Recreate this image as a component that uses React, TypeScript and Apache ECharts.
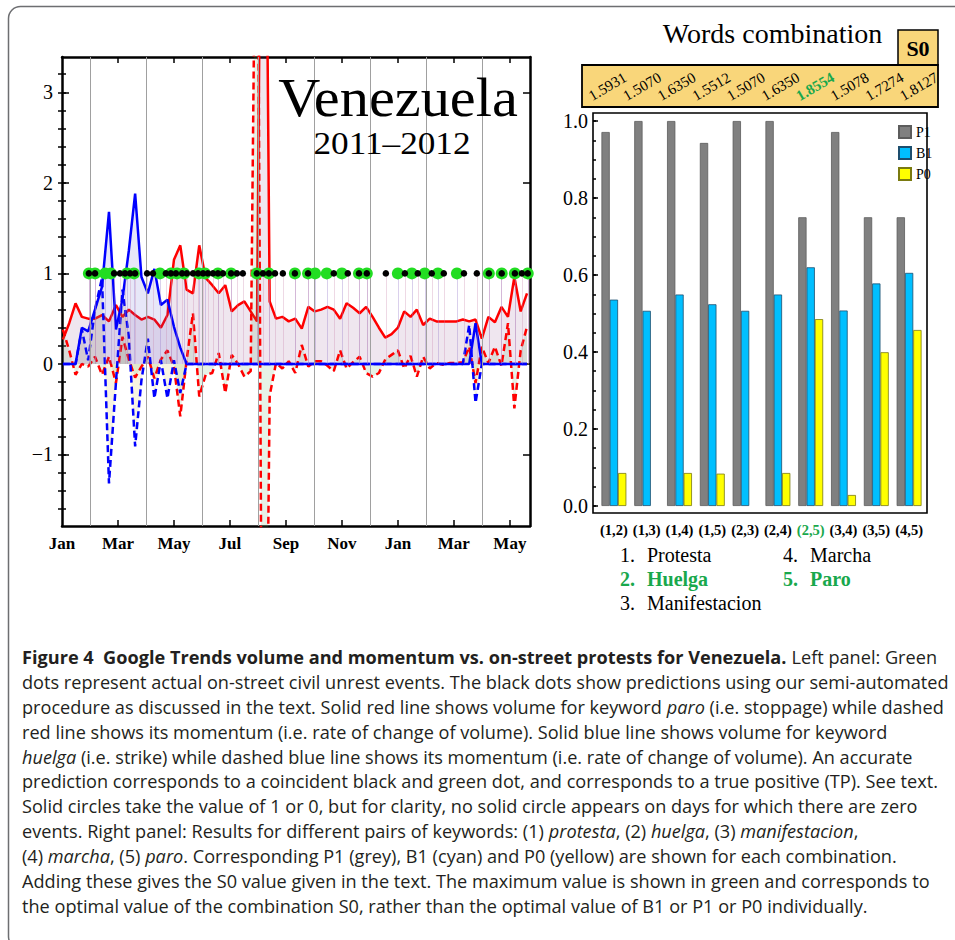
import React, { useEffect, useRef } from 'react';
import * as echarts from 'echarts';

// ---------- Left panel data (weekly samples starting 2011-01-02) ----------
const weekStart = Date.UTC(2011, 0, 2);
const redVolume = [
  0.27, 0.45, 0.67, 0.52, 0.50, 0.50, 0.54, 0.47, 0.65, 0.52,
  0.60, 0.54, 0.49, 0.52, 0.49, 0.40, 0.54, 1.15, 1.31, 0.82,
  0.78, 1.31, 0.95, 0.87, 0.78, 0.87, 0.58, 0.65, 0.69, 0.58,
  0.47, 9.0, 0.69, 0.50, 0.52, 0.47, 0.50, 0.39, 0.63, 0.58,
  0.60, 0.63, 0.60, 0.50, 0.67, 0.62, 0.56, 0.63, 0.52, 0.40,
  0.29, 0.33, 0.40, 0.58, 0.52, 0.60, 0.43, 0.50, 0.47, 0.47,
  0.47, 0.47, 0.49, 0.47, 0.49, 0.28, 0.52, 0.46, 0.63, 0.52,
  0.96, 0.58, 0.78,
];
const redMomentum = [
  0.38, 0.15, -0.12, 0.0, -0.03, 0.08, -0.12, 0.08, -0.21, 0.30,
  0.05, -0.15, -0.03, 0.08, -0.16, 0.05, 0.15, -0.03, -0.58, 0.04,
  0.56, -0.36, -0.12, -0.10, 0.12, -0.32, 0.10, 0.0, -0.14, -0.08,
  7.0, -7.0, -0.35, 0.01, -0.05, 0.03, -0.10, 0.21, -0.03, 0.03,
  0.03, -0.02, -0.08, 0.15, -0.05, 0.02, 0.08, -0.10, -0.14, -0.10,
  0.05, 0.10, 0.15, -0.05, 0.09, -0.14, 0.08, -0.05, 0.01, -0.01,
  0.01, 0.01, 0.02, 0.19, -0.21, 0.19, 0.01, 0.19, -0.02, 0.45,
  -0.49, 0.15, 0.41,
];
const blueVolume = [
  0, 0, 0, 0.40, 0.36, 0.60, 0.85, 1.68, 0.38, 0.72,
  1.25, 1.88, 0.96, 0.78, 1.05, 0.65, 0.71, 0.41, 0.18, 0,
  0, 0, 0, 0, 0, 0, 0, 0, 0, 0,
  0, 0, 0, 0, 0, 0, 0, 0, 0, 0,
  0, 0, 0, 0, 0, 0, 0, 0, 0, 0,
  0, 0, 0, 0, 0, 0, 0, 0, 0, 0,
  0, 0, 0, 0, 0.45, 0, 0, 0, 0, 0,
  0, 0, 0,
];
const blueMomentum = [
  0, 0, 0, 0.38, 0.04, 0.60, 0.95, -1.32, -0.20, 0.82,
  0.30, -0.91, -0.18, 0.28, -0.38, 0.04, -0.38, 0.04, -0.32, 0,
  0, 0, 0, 0, 0, 0, 0, 0, 0, 0,
  0, 0, 0, 0, 0, 0, 0, 0, 0, 0,
  0, 0, 0, 0, 0, 0, 0, 0, 0, 0,
  0, 0, 0, 0, 0, 0, 0, 0, 0, 0,
  0, 0, 0, 0.43, -0.43, 0, 0, 0, 0, 0,
  0, 0, 0,
];
// event positions in months since Jan 2011
const greenEventMonths = [
  0.96, 1.18, 1.54, 1.75, 2.32, 2.57, 3.50, 3.89, 4.11, 4.36, 4.89, 5.11, 5.57, 6.04,
  6.96, 7.39, 8.32, 8.79, 9.04, 9.46, 10.0, 10.61, 10.89, 12.0, 12.5, 12.96, 13.43,
  14.11, 15.25, 15.71, 16.18, 16.64,
];
const blackEventMonths = [
  0.96, 1.18, 1.86, 2.07, 2.25, 2.43, 2.61, 3.04, 3.25, 3.71, 3.89, 4.07, 4.29, 4.46,
  4.68, 4.86, 5.04, 5.21, 5.39, 5.57, 5.75, 6.04, 6.25, 6.46, 6.96, 7.18, 7.39, 7.61,
  7.89, 8.32, 8.79, 9.71, 10.21, 10.61, 10.89, 11.57, 12.25, 12.71, 13.21, 13.64,
  14.36, 14.82, 15.25, 15.71, 16.18, 16.43, 16.64,
];
const gridMonths = [1, 3, 5, 7, 9, 11, 13, 15];
const monthTickValues = [2, 4, 6, 8, 10, 12, 14, 16];
const monthLabelValues = [0, 2, 4, 6, 8, 10, 12, 14, 16];
const monthLabelNames = ['Jan', 'Mar', 'May', 'Jul', 'Sep', 'Nov', 'Jan', 'Mar', 'May'];
const leftMajorTicks = [-1, 0, 1, 2, 3];

// ---------- Right panel data ----------
const pairLabels = ['(1,2)', '(1,3)', '(1,4)', '(1,5)', '(2,3)', '(2,4)', '(2,5)', '(3,4)', '(3,5)', '(4,5)'];
const p1Values = [0.9714, 1.0, 1.0, 0.943, 1.0, 1.0, 0.75, 0.9714, 0.75, 0.75];
const b1Values = [0.536, 0.507, 0.5493, 0.524, 0.507, 0.5493, 0.62, 0.5078, 0.578, 0.6055];
const p0Values = [0.0857, 0, 0.0857, 0.084, 0, 0.0857, 0.4854, 0.0286, 0.3994, 0.4572];
const s0Values = ['1.5931', '1.5070', '1.6350', '1.5512', '1.5070', '1.6350', '1.8554', '1.5078', '1.7274', '1.8127'];
const bestIndex = 6;
const rightMajorTicks = [0, 0.2, 0.4, 0.6, 0.8, 1.0];
const keywords = [
  { n: '1.', w: 'Protesta', best: false },
  { n: '2.', w: 'Huelga', best: true },
  { n: '3.', w: 'Manifestacion', best: false },
  { n: '4.', w: 'Marcha', best: false },
  { n: '5.', w: 'Paro', best: true },
];

type Seg = { t: string; b?: boolean; i?: boolean };
const captionLines: Seg[][] = [
  [{ t: 'Figure 4\u00a0\u00a0Google Trends volume and momentum vs. on-street protests for Venezuela. ', b: true }, { t: 'Left panel: Green' }],
  [{ t: 'dots represent actual on-street civil unrest events. The black dots show predictions using our semi-automated' }],
  [{ t: 'procedure as discussed in the text. Solid red line shows volume for keyword ' }, { t: 'paro ', i: true }, { t: '(i.e. stoppage) while dashed' }],
  [{ t: 'red line shows its momentum (i.e. rate of change of volume). Solid blue line shows volume for keyword' }],
  [{ t: 'huelga ', i: true }, { t: '(i.e. strike) while dashed blue line shows its momentum (i.e. rate of change of volume). An accurate' }],
  [{ t: 'prediction corresponds to a coincident black and green dot, and corresponds to a true positive (TP). See text.' }],
  [{ t: 'Solid circles take the value of 1 or 0, but for clarity, no solid circle appears on days for which there are zero' }],
  [{ t: 'events. Right panel: Results for different pairs of keywords: (1) ' }, { t: 'protesta', i: true }, { t: ', (2) ' }, { t: 'huelga', i: true }, { t: ', (3) ' }, { t: 'manifestacion', i: true }, { t: ',' }],
  [{ t: '(4) ' }, { t: 'marcha', i: true }, { t: ', (5) ' }, { t: 'paro', i: true }, { t: '. Corresponding P1 (grey), B1 (cyan) and P0 (yellow) are shown for each combination.' }],
  [{ t: 'Adding these gives the S0 value given in the text. The maximum value is shown in green and corresponds to' }],
  [{ t: 'the optimal value of the combination S0, rather than the optimal value of B1 or P1 or P0 individually.' }],
];

const SERIF = '"Liberation Serif", "Times New Roman", "DejaVu Serif", serif';
const SANS = '"Open Sans", "Noto Sans", sans-serif';
const GREEN = '#19a84c';

function monthPos(t: number): number {
  const d = new Date(t);
  const y = d.getUTCFullYear();
  const m = d.getUTCMonth();
  const day = d.getUTCDate();
  const dim = new Date(Date.UTC(y, m + 1, 0)).getUTCDate();
  return (y - 2011) * 12 + m + (day - 1) / dim;
}

export default function App() {
  const ref = useRef<HTMLDivElement>(null);
  useEffect(() => {
    if (!ref.current) return;
    const chart = echarts.init(ref.current, undefined, { renderer: 'svg' });
    const weekX = redVolume.map((_, i) => monthPos(weekStart + i * 7 * 86400000));
    const pairs = (arr: number[]) => arr.map((v, i) => [weekX[i], v]);
    const noZero = (arr: number[]) => arr.map((v) => (v === 0 ? null : v));

    const yMin = -1.79, yMax = 3.39;
    const minorTicks: number[] = [];
    for (let k = -8; k <= 16; k++) minorTicks.push(Math.round(k * 20) / 100);
    const rMin = -0.0182, rMax = 1.0208;
    const rMinor: number[] = [];
    for (let k = 0; k <= 20; k++) rMinor.push(Math.round(k * 5) / 100);

    // caption measurement
    const CAP = 18;
    const ctx = document.createElement('canvas').getContext('2d') as CanvasRenderingContext2D;
    const fontOf = (s: Seg) => `${s.i ? 'italic ' : ''}${s.b ? 'bold ' : ''}${CAP}px "Open Sans"`;
    const segW = (s: Seg) => { ctx.font = fontOf(s); return ctx.measureText(s.t).width; };
    const refW = captionLines[1].reduce((a, s) => a + segW(s), 0);
    const sc = refW > 0 ? 927 / refW : 0.8;
    const captionEls: any[] = [];
    captionLines.forEach((line, li) => {
      let cx = 22;
      line.forEach((s) => {
        captionEls.push({
          type: 'text', x: cx, y: 657 + li * 24.9, scaleX: sc, z: 10,
          style: {
            text: s.t, fill: '#231f20', fontFamily: SANS, fontSize: CAP,
            fontWeight: s.b ? 'bold' : 'normal', fontStyle: s.i ? 'italic' : 'normal',
            align: 'left', textAlign: 'left', verticalAlign: 'middle', textVerticalAlign: 'middle',
            lineHeight: 20,
          },
        });
        cx += segW(s) * sc;
      });
    });

    const txt = (x: number, y: number, text: string, o: any = {}) => ({
      type: 'text', x, y, z: 10, rotation: o.rotation || 0, scaleX: o.sx || 1,
      style: {
        text, fill: o.color || '#000', fontFamily: o.family || SERIF, fontSize: o.size || 20,
        fontWeight: o.bold ? 'bold' : 'normal',
        align: o.align || 'left', textAlign: o.align || 'left',
        verticalAlign: 'middle', textVerticalAlign: 'middle',
        lineHeight: o.lh || undefined,
      },
    });

    const s0Els = s0Values.map((v, i) =>
      txt(607.5 + i * 34.6, 86.5, v, { size: 15, align: 'center', rotation: Math.PI / 6, color: i === bestIndex ? GREEN : '#000', bold: i === bestIndex })
    );
    const kwEls: any[] = [];
    keywords.forEach((k, i) => {
      const col = i < 3 ? 0 : 1;
      const row = i < 3 ? i : i - 3;
      const x0 = col === 0 ? 620 : 783;
      const y0 = 555 + row * 24;
      const o = { size: 20, color: k.best ? GREEN : '#000', bold: k.best };
      kwEls.push(txt(x0, y0, k.n, o));
      kwEls.push(txt(x0 + 27, y0, k.w, o));
    });

    const frameAxisLine = { show: true, onZero: false, lineStyle: { color: '#000', width: 2.5 } };
    const majorTick = (vals: number[], len: number) => ({ show: true, inside: true, length: len, customValues: vals, lineStyle: { color: '#000', width: 1.5 } });

    const dropLines = (arr: number[], color: string) => ({
      silent: true, symbol: ['none', 'none'], label: { show: false },
      lineStyle: { color, width: 1, type: 'solid' },
      data: arr.map((m) => [{ coord: [m, 0] }, { coord: [m, 1] }]),
    });

    const barStyle = (color: string, border: string) => ({ color, borderColor: border, borderWidth: 0.8 });

    const option: any = {
      animation: false,
      backgroundColor: '#fff',
      grid: [
        { left: 62, top: 57, width: 468, height: 469 },
        { left: 597.5, top: 113, width: 328, height: 400 },
      ],
      legend: {
        data: ['P1', 'B1', 'P0'], orient: 'vertical', left: 893, top: 120,
        itemWidth: 12, itemHeight: 12, itemGap: 7, icon: 'rect', selectedMode: false,
        textStyle: { fontFamily: SERIF, fontSize: 14, color: '#000' },
      },
      xAxis: [
        {
          gridIndex: 0, type: 'value', min: 0, max: 16.72, position: 'bottom',
          axisLine: frameAxisLine, axisTick: majorTick(monthTickValues, 6),
          axisLabel: {
            customValues: monthLabelValues,
            formatter: (v: number) => monthLabelNames[Math.round(v / 2)] || '',
            fontFamily: SERIF, fontWeight: 'bold', fontSize: 17, color: '#000', margin: 9,
          },
          splitLine: { show: false },
        },
        {
          gridIndex: 0, type: 'value', min: 0, max: 16.72, position: 'top',
          axisLine: frameAxisLine, axisTick: majorTick(monthTickValues, 6),
          axisLabel: { show: false }, splitLine: { show: false },
        },
        {
          gridIndex: 1, type: 'category', data: pairLabels, position: 'bottom',
          axisLine: { show: false }, axisTick: { show: false },
          axisLabel: {
            margin: 9, interval: 0,
            formatter: (v: string, i: number) => (i === bestIndex ? `{g|${v}}` : `{k|${v}}`),
            rich: {
              k: { fontFamily: SERIF, fontWeight: 'bold', fontSize: 14.5, color: '#000' },
              g: { fontFamily: SERIF, fontWeight: 'bold', fontSize: 14.5, color: GREEN },
            },
          },
        },
      ],
      yAxis: [
        {
          gridIndex: 0, type: 'value', min: yMin, max: yMax, position: 'left',
          axisLine: frameAxisLine, axisTick: majorTick(leftMajorTicks, 7),
          axisLabel: {
            customValues: leftMajorTicks,
            formatter: (v: number) => (v < 0 ? '\u2212' + Math.abs(v) : String(v)),
            fontFamily: SERIF, fontSize: 20, color: '#000', margin: 9,
          },
          splitLine: { show: false },
        },
        {
          gridIndex: 0, type: 'value', min: yMin, max: yMax, position: 'left',
          axisLine: { show: false }, axisTick: majorTick(minorTicks, 4),
          axisLabel: { show: false }, splitLine: { show: false },
        },
        {
          gridIndex: 0, type: 'value', min: yMin, max: yMax, position: 'right',
          axisLine: frameAxisLine, axisTick: majorTick(leftMajorTicks, 7),
          axisLabel: { show: false }, splitLine: { show: false },
        },
        {
          gridIndex: 0, type: 'value', min: yMin, max: yMax, position: 'right',
          axisLine: { show: false }, axisTick: majorTick(minorTicks, 4),
          axisLabel: { show: false }, splitLine: { show: false },
        },
        {
          gridIndex: 1, type: 'value', min: rMin, max: rMax, position: 'left', offset: 4.5,
          axisLine: { show: false }, axisTick: majorTick(rightMajorTicks, 5),
          axisLabel: {
            customValues: rightMajorTicks, formatter: (v: number) => v.toFixed(1),
            fontFamily: SERIF, fontSize: 20, color: '#000', margin: 5,
          },
          splitLine: { show: false },
        },
        {
          gridIndex: 1, type: 'value', min: rMin, max: rMax, position: 'left', offset: 4.5,
          axisLine: { show: false }, axisTick: majorTick(rMinor, 3),
          axisLabel: { show: false }, splitLine: { show: false },
        },
      ],
      series: [
        {
          type: 'line', name: 'grid', xAxisIndex: 0, yAxisIndex: 0, data: [[0, 0]], symbol: 'none',
          lineStyle: { width: 0 }, z: 1,
          markLine: {
            silent: true, symbol: ['none', 'none'], label: { show: false },
            lineStyle: { color: '#a0a0a0', width: 1, type: 'solid' },
            data: gridMonths.map((m) => ({ xAxis: m })),
          },
        },
        {
          type: 'line', name: 'paro volume', xAxisIndex: 0, yAxisIndex: 0, data: pairs(redVolume),
          symbol: 'none', showSymbol: false, z: 2,
          lineStyle: { color: '#ff0000', width: 2.5 },
          areaStyle: { color: 'rgba(130,55,130,0.18)' },
        },
        {
          type: 'line', name: 'paro momentum', xAxisIndex: 0, yAxisIndex: 0, data: pairs(redMomentum),
          symbol: 'none', showSymbol: false, z: 3,
          lineStyle: { color: '#ff0000', width: 2.5, type: [7, 4] },
          areaStyle: { color: 'rgba(90,170,90,0.22)' },
        },
        {
          type: 'line', name: 'huelga momentum', xAxisIndex: 0, yAxisIndex: 0, data: pairs(blueMomentum),
          symbol: 'none', showSymbol: false, z: 3,
          lineStyle: { color: '#0000ff', width: 2.5, type: [7, 4] },
          areaStyle: { color: 'rgba(205,180,60,0.22)' },
        },
        {
          type: 'line', name: 'huelga volume', xAxisIndex: 0, yAxisIndex: 0, data: pairs(blueVolume),
          symbol: 'none', showSymbol: false, z: 4,
          lineStyle: { color: '#0000ff', width: 2.5 },
          areaStyle: { color: 'rgba(60,60,200,0.18)' },
        },
        {
          type: 'scatter', name: 'actual events', xAxisIndex: 0, yAxisIndex: 0,
          data: greenEventMonths.map((m) => [m, 1]), symbolSize: 12, z: 5,
          itemStyle: { color: '#22dd22', opacity: 1 },
          markLine: dropLines(greenEventMonths, 'rgba(150,120,200,0.35)'),
        },
        {
          type: 'scatter', name: 'predictions', xAxisIndex: 0, yAxisIndex: 0,
          data: blackEventMonths.map((m) => [m, 1]), symbolSize: 6.5, z: 6,
          itemStyle: { color: '#000', opacity: 1 },
          markLine: dropLines(blackEventMonths, 'rgba(200,130,170,0.3)'),
        },
        {
          type: 'bar', name: 'P1', xAxisIndex: 2, yAxisIndex: 4, data: noZero(p1Values),
          barWidth: 8.3, barGap: '0%', itemStyle: barStyle('#808080', '#5c5c5c'),
        },
        {
          type: 'bar', name: 'B1', xAxisIndex: 2, yAxisIndex: 4, data: noZero(b1Values),
          barWidth: 8.3, barGap: '0%', itemStyle: barStyle('#00bfff', '#1d4e6e'),
        },
        {
          type: 'bar', name: 'P0', xAxisIndex: 2, yAxisIndex: 4, data: noZero(p0Values),
          barWidth: 8.3, barGap: '0%', itemStyle: barStyle('#ffff00', '#7a7a10'),
        },
      ],
      graphic: [
        {
          type: 'rect', z: 0, silent: true,
          shape: { x: 8.5, y: 6.5, width: 962, height: 942, r: 12 },
          style: { fill: 'none', stroke: '#6d6e71', lineWidth: 1.5 },
        },
        txt(398, 98, 'Venezuela', { size: 54, align: 'center', lh: 46, sx: 1.08 }),
        txt(392, 143, '2011\u20132012', { size: 32, align: 'center', lh: 28, sx: 1.1 }),
        txt(772.5, 33, 'Words combination', { size: 28, align: 'center' }),
        {
          type: 'rect', z: 9, shape: { x: 898, y: 30, width: 40, height: 35 },
          style: { fill: '#f9d67a', stroke: '#000', lineWidth: 1.5 },
        },
        txt(918, 48, 'S0', { size: 22, align: 'center', bold: true }),
        {
          type: 'rect', z: 9, shape: { x: 582, y: 65, width: 356, height: 42 },
          style: { fill: '#f9d67a', stroke: '#000', lineWidth: 1.8 },
        },
        ...s0Els,
        {
          type: 'rect', z: 9, silent: true, shape: { x: 593, y: 113, width: 334, height: 400 },
          style: { fill: 'none', stroke: '#000', lineWidth: 1.6 },
        },
        ...kwEls,
        ...captionEls,
      ],
    };
    chart.setOption(option);
    return () => chart.dispose();
  }, []);
  return (
    <div
      ref={ref}
      style={{ position: 'absolute', left: 0, top: 0, width: 955, height: 940, background: '#fff' }}
    />
  );
}
